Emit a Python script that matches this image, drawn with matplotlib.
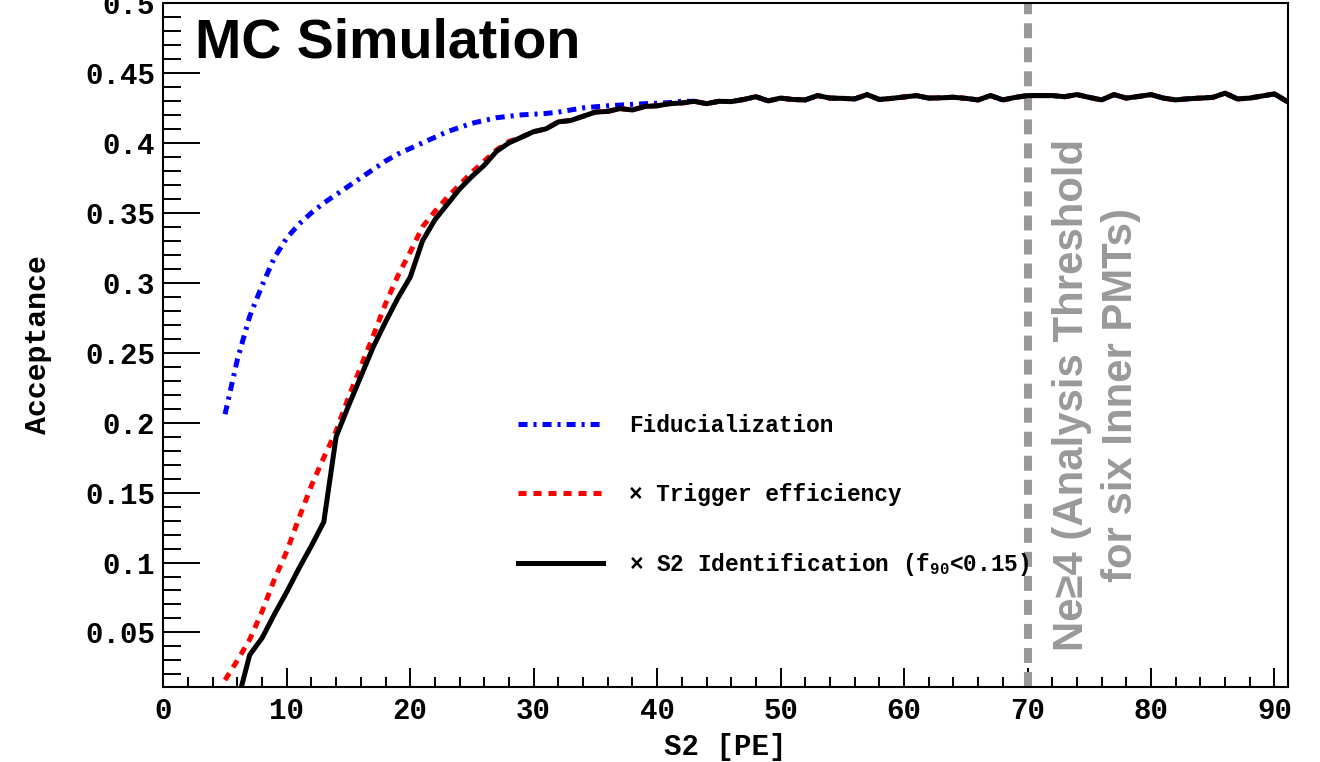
import matplotlib
matplotlib.use("Agg")
import matplotlib.pyplot as plt
import numpy as np

# S2 [PE] bins and acceptance values
x_s2id = list(range(6, 92))
acc_s2id = [0.000, 0.034, 0.046, 0.063, 0.079, 0.096, 0.112, 0.129, 0.190, 0.212,
            0.233, 0.254, 0.272, 0.289, 0.304, 0.330, 0.345, 0.356, 0.367, 0.376,
            0.384, 0.394, 0.400, 0.404, 0.408, 0.410, 0.415, 0.416, 0.419, 0.422,
            0.4225, 0.4245, 0.4235, 0.426, 0.4265, 0.428, 0.4285, 0.4297, 0.428, 0.4297,
            0.4295, 0.431, 0.433, 0.430, 0.432, 0.431, 0.4307, 0.4338, 0.432, 0.4318,
            0.4314, 0.4345, 0.431, 0.4318, 0.4328, 0.4338, 0.432, 0.4322, 0.4326, 0.4318,
            0.4307, 0.4338, 0.4307, 0.4325, 0.4338, 0.4338, 0.4338, 0.433, 0.4345, 0.4325,
            0.4307, 0.4345, 0.432, 0.4332, 0.4345, 0.432, 0.4307, 0.4315, 0.432, 0.4325,
            0.4355, 0.4314, 0.432, 0.4335, 0.435, 0.4297]

# trigger efficiency, rising part (x = 5..28), then same plateau as S2 id
x_trig_rise = list(range(5, 29))
acc_trig_rise = [0.016, 0.030, 0.045, 0.065, 0.088, 0.108, 0.132, 0.155, 0.175, 0.194,
                 0.218, 0.240, 0.262, 0.285, 0.305, 0.322, 0.340, 0.351, 0.361, 0.370,
                 0.379, 0.387, 0.395, 0.401]

# fiducialization, rising part (x = 5..42)
x_fid_rise = list(range(5, 43))
acc_fid_rise = [0.206, 0.245, 0.276, 0.298, 0.318, 0.332, 0.342, 0.350, 0.357, 0.363,
                0.369, 0.375, 0.381, 0.387, 0.392, 0.396, 0.400, 0.404, 0.408, 0.411,
                0.414, 0.416, 0.418, 0.419, 0.420, 0.4205, 0.421, 0.422, 0.4235, 0.425,
                0.4258, 0.4265, 0.427, 0.4275, 0.428, 0.4283, 0.4288, 0.4297]

threshold_x = 70

# curves share the plateau of the S2 id curve
x_trig = x_trig_rise + x_s2id[x_s2id.index(29):]
acc_trig = acc_trig_rise + acc_s2id[x_s2id.index(29):]
x_fid = x_fid_rise + x_s2id[x_s2id.index(43):]
acc_fid = acc_fid_rise + acc_s2id[x_s2id.index(43):]

plt.rcParams['lines.scale_dashes'] = False
plt.rcParams['mathtext.fontset'] = 'custom'
plt.rcParams['mathtext.rm'] = 'Liberation Mono:bold'
plt.rcParams['mathtext.default'] = 'rm'

mono = 'Liberation Mono'
sans = 'Liberation Sans'

fig = plt.figure(figsize=(13.2, 7.62), dpi=100)
ax = fig.add_axes([0.1237, 0.0984, 0.8521, 0.8977])

ax.plot(x_fid, acc_fid, color='blue', lw=3.6, dash_capstyle='butt',
        linestyle=(0, (6.5, 4.3, 2.2, 4.3)), label='Fiducialization', zorder=3)
ax.plot(x_trig, acc_trig, color='red', lw=3.6, dash_capstyle='butt',
        linestyle=(0, (5.8, 5.0)), label='× Trigger efficiency', zorder=4)
ax.plot(x_s2id, acc_s2id, color='black', lw=3.6,
        label=r'× S2 Identification (f$_{90}$<0.15)', zorder=5)

ax.axvline(threshold_x, color='#999999', lw=5.8, dash_capstyle='butt',
           linestyle=(0, (10.8, 6.5)), zorder=2)

ax.set_xlim(0, 91.1)
ax.set_ylim(0.011, 0.4998)

ax.set_xticks(np.arange(0, 91, 10))
ax.set_xticks(np.arange(0, 92, 2), minor=True)
ax.set_yticks([0.05, 0.1, 0.15, 0.2, 0.25, 0.3, 0.35, 0.4, 0.45, 0.5])
ax.set_yticklabels(['0.05', '0.1', '0.15', '0.2', '0.25', '0.3', '0.35', '0.4', '0.45', '0.5'])
ax.set_yticks(np.arange(0.02, 0.5, 0.01), minor=True)

ax.tick_params(axis='both', which='both', direction='in', top=False, right=False, width=1.4)
ax.tick_params(axis='y', which='major', length=26.5, pad=6)
ax.tick_params(axis='y', which='minor', length=13)
ax.tick_params(axis='x', which='major', length=13.5, pad=7)
ax.tick_params(axis='x', which='minor', length=7)
for lab in ax.get_xticklabels() + ax.get_yticklabels():
    lab.set_fontfamily(mono)
    lab.set_fontweight('bold')
    lab.set_fontsize(21)

for s in ax.spines.values():
    s.set_linewidth(1.5)

ax.set_xlabel('S2 [PE]', fontfamily=mono, fontweight='bold', fontsize=21, labelpad=6)
ax.set_ylabel('Acceptance', fontfamily=mono, fontweight='bold', fontsize=21.5, labelpad=24)

ax.text(0.0285, 0.9196, 'MC Simulation', transform=ax.transAxes, fontfamily=sans,
        fontweight='bold', fontsize=40, va='baseline', ha='left')

ax.text(75.6, 0.2195, 'Ne≥4 (Analysis Threshold\nfor six Inner PMTs)', rotation=90,
        ha='center', va='center', multialignment='center', color='#999999',
        fontfamily=sans, fontweight='bold', fontsize=30.2, linespacing=1.3)

leg = ax.legend(loc='center left', bbox_to_anchor=(0.315, 0.2792), frameon=False,
                prop={'family': mono, 'weight': 'bold', 'size': 16.4},
                handlelength=3.75, handletextpad=1.15, labelspacing=2.0,
                borderpad=0, borderaxespad=0)

fig.savefig('out.png', dpi=100)
